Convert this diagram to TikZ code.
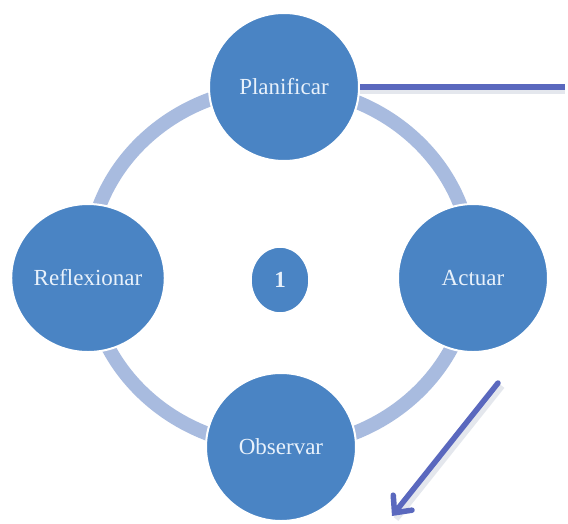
\documentclass[tikz,border=0pt]{standalone}
\usepackage{fontspec}
\setmainfont{Liberation Serif}
\usetikzlibrary{arrows.meta,shapes.geometric}
\definecolor{nodeblue}{HTML}{4A84C4}
\definecolor{ringblue}{HTML}{A8BBDF}
\definecolor{arrowblue}{HTML}{5A68BE}
\definecolor{textblue}{HTML}{E8F1FB}
\definecolor{shadowgray}{HTML}{D9DDE6}
\begin{document}
\begin{tikzpicture}[x=1pt,y=-1pt,
  stage/.style={ellipse, fill=nodeblue, draw=white, line width=2pt,
    minimum width=150pt, minimum height=148pt, inner sep=0pt,
    text=textblue, font=\fontsize{23}{27}\selectfont},
  counter/.style={ellipse, fill=nodeblue, draw=white, line width=1.5pt,
    minimum width=58pt, minimum height=66pt, inner sep=0pt,
    text=textblue, font=\fontsize{23}{27}\selectfont\bfseries},
  ring/.style={draw=ringblue, line width=14pt},
  pointer/.style={draw=arrowblue, line width=5.5pt},
  pointershadow/.style={draw=shadowgray, line width=6pt, opacity=0.7}]
\useasboundingbox (0,0) rectangle (568,523);
\fill[white] (0,0) rectangle (568,523);
\draw[ring] (280,267) ellipse [x radius=192, y radius=180];
\node[stage] (plan) at (284,87) {Planificar};
\node[stage] (act) at (473,278) {Actuar};
\node[stage] (obs) at (281,447) {Observar};
\node[stage] (refl) at (88,278) {Reflexionar};
\node[counter] (one) at (280,280) {1};
\coordinate (planend) at (565,87);
\coordinate (atail) at (498,383);
\coordinate (ahead) at (392,516);
\draw[pointershadow] ([yshift=-4pt]plan.east) -- ([yshift=-4pt]planend);
\draw[pointer] (plan.east) -- (planend);
\draw[pointershadow] ([xshift=4pt,yshift=-3pt]atail) -- ([xshift=4pt,yshift=-3pt]ahead);
\draw[pointer, line cap=round, -{Straight Barb[length=13pt,width=24pt,line cap=round]}] (atail) -- (ahead);
\end{tikzpicture}
\end{document}
